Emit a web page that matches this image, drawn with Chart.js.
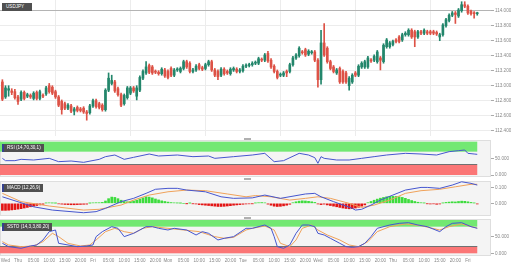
<!DOCTYPE html>
<html><head><meta charset="utf-8">
<script src="https://cdn.jsdelivr.net/npm/chart.js@4.4.1/dist/chart.umd.min.js"></script>
<style>
html,body{margin:0;padding:0;background:#fff;}
body{width:511px;height:267px;position:relative;overflow:hidden;font-family:"Liberation Sans",Arial,sans-serif;}
.box{position:absolute;left:0;width:511px;}
.tag{position:absolute;left:2px;background:#505050;color:#fff;font-size:4.6px;line-height:8px;height:8px;padding:0 3px 0 3px;white-space:nowrap;border-left:2px solid #35418f;}
.hdl{position:absolute;left:244px;width:7px;height:2px;background:#b0b0b0;}
</style></head><body>
<div class="box" style="top:0;height:137px"><canvas id="cMain"></canvas></div>
<div class="box" style="top:140px;height:37px"><canvas id="cRsi"></canvas></div>
<div class="box" style="top:181px;height:35px"><canvas id="cMacd"></canvas></div>
<div class="box" style="top:219px;height:48px"><canvas id="cSsto"></canvas></div>
<div class="tag" style="top:3px;border-left:none;padding-left:4px;width:23px">USDJPY</div>
<div class="tag" style="top:144px">RSI (14,70,30,1)</div>
<div class="tag" style="top:184px">MACD (12,26,9)</div>
<div class="tag" style="top:223px">SSTO (14,3,3,80,20)</div>
<div class="hdl" style="top:138px"></div>
<div class="hdl" style="top:178px"></div>
<div class="hdl" style="top:217px"></div>
<script>
// ---- time axis (hourly candles, index 0 = Wed 19:00) ----
const dayPos = [5,29,53,77,101,125,149];
const tickPos = [1,5,10,15,20,25,29,34,39,44,49,53,58,63,68,73,77,82,87,92,97,101,106,111,116,121,125,130,135,140,145,149];
const tickText = ['Wed','Thu','05:00','10:00','15:00','20:00','Fri','05:00','10:00','15:00','20:00','Mon','05:00','10:00','15:00','20:00','Tue','05:00','10:00','15:00','20:00','Wed','05:00','10:00','15:00','20:00','Thu','05:00','10:00','15:00','20:00','Fri'];

// ---- price (USDJPY, hourly OHLC) ----
const open = [113.05,112.85,112.94,112.93,112.92,112.85,112.82,112.91,112.86,112.87,
112.83,112.91,112.83,112.87,112.89,113.00,112.98,112.92,112.85,112.79,
112.76,112.70,112.73,112.66,112.71,112.69,112.70,112.65,112.64,112.73,
112.80,112.76,112.74,112.68,112.94,113.03,113.05,112.96,112.88,112.76,
112.84,112.90,112.97,112.86,112.94,113.10,113.17,113.27,113.25,113.19,
113.18,113.16,113.21,113.19,113.23,113.14,113.21,113.19,113.23,113.32,
113.30,113.19,113.21,113.28,113.24,113.23,113.28,113.32,113.21,113.19,
113.14,113.22,113.19,113.16,113.21,113.22,113.19,113.20,113.26,113.27,
113.28,113.30,113.30,113.35,113.34,113.43,113.34,113.26,113.19,113.14,
113.14,113.19,113.19,113.28,113.37,113.40,113.45,113.48,113.42,113.44,
113.45,113.34,113.08,113.57,113.50,113.32,113.25,113.17,113.23,113.19,
113.17,113.00,113.05,113.17,113.14,113.25,113.25,113.25,113.34,113.34,
113.32,113.37,113.32,113.52,113.52,113.55,113.61,113.65,113.61,113.68,
113.68,113.74,113.72,113.65,113.72,113.70,113.72,113.72,113.72,113.71,
113.65,113.68,113.80,113.87,113.94,113.97,113.93,114.00,114.08,114.06,
113.99,113.97,113.96];
const high = [113.08,113.00,113.00,112.96,112.95,112.87,112.93,112.93,112.90,112.89,
112.92,112.93,112.94,112.89,112.99,113.03,113.00,112.94,112.87,112.81,
112.78,112.76,112.75,112.71,112.73,112.71,112.72,112.67,112.75,112.82,
112.82,112.78,112.76,112.96,113.17,113.14,113.07,112.98,112.90,112.89,
112.99,112.99,112.99,113.00,113.13,113.21,113.32,113.29,113.27,113.21,
113.20,113.24,113.23,113.21,113.25,113.23,113.24,113.25,113.34,113.34,
113.32,113.23,113.28,113.30,113.26,113.30,113.34,113.34,113.23,113.21,
113.24,113.24,113.21,113.24,113.25,113.24,113.23,113.28,113.29,113.30,
113.32,113.33,113.38,113.37,113.43,113.46,113.36,113.28,113.21,113.17,
113.19,113.21,113.30,113.39,113.43,113.52,113.47,113.50,113.48,113.47,
113.47,113.36,113.74,113.83,113.52,113.34,113.27,113.23,113.25,113.21,
113.19,113.12,113.16,113.19,113.28,113.32,113.34,113.39,113.36,113.41,
113.47,113.39,113.56,113.63,113.59,113.61,113.63,113.67,113.70,113.72,
113.76,113.76,113.74,113.74,113.74,113.76,113.74,113.74,113.74,113.73,
113.70,113.83,113.90,113.96,113.99,113.99,114.03,114.12,114.12,114.08,
114.01,113.99,113.98];
const low = [112.80,112.83,112.86,112.88,112.82,112.75,112.80,112.81,112.84,112.83,
112.81,112.81,112.81,112.84,112.87,112.90,112.88,112.83,112.72,112.62,
112.68,112.68,112.64,112.61,112.65,112.65,112.63,112.54,112.62,112.71,
112.70,112.69,112.66,112.66,112.92,113.01,112.91,112.86,112.72,112.74,
112.82,112.88,112.91,112.81,112.92,113.08,113.15,113.16,113.15,113.16,
113.14,113.14,113.11,113.09,113.12,113.12,113.19,113.17,113.21,113.23,
113.17,113.17,113.19,113.21,113.20,113.21,113.26,113.19,113.12,113.08,
113.12,113.14,113.15,113.14,113.19,113.17,113.17,113.18,113.24,113.25,
113.26,113.28,113.28,113.32,113.32,113.31,113.23,113.17,113.09,113.12,
113.12,113.12,113.17,113.26,113.35,113.38,113.42,113.39,113.40,113.42,
113.32,112.98,113.02,113.39,113.30,113.21,113.17,113.15,113.03,113.03,
113.03,112.94,113.03,113.12,113.12,113.23,113.23,113.23,113.31,113.32,
113.30,113.21,113.30,113.50,113.50,113.53,113.57,113.57,113.59,113.66,
113.66,113.63,113.52,113.63,113.68,113.68,113.68,113.68,113.68,113.67,
113.60,113.66,113.78,113.85,113.92,113.83,113.91,113.98,114.04,113.95,
113.94,113.90,113.94];
const close = [112.82,112.97,112.96,112.91,112.84,112.79,112.91,112.83,112.88,112.85,
112.90,112.83,112.92,112.86,112.97,112.92,112.90,112.85,112.74,112.68,
112.70,112.74,112.66,112.69,112.67,112.67,112.65,112.63,112.73,112.80,
112.72,112.71,112.68,112.94,113.10,113.07,112.93,112.88,112.74,112.87,
112.97,112.97,112.93,112.97,113.11,113.19,113.25,113.18,113.17,113.18,
113.16,113.22,113.13,113.11,113.14,113.21,113.22,113.23,113.32,113.25,
113.19,113.21,113.26,113.23,113.22,113.28,113.32,113.21,113.14,113.12,
113.22,113.16,113.17,113.22,113.23,113.19,113.21,113.26,113.27,113.28,
113.30,113.31,113.36,113.34,113.41,113.33,113.25,113.19,113.11,113.15,
113.17,113.17,113.28,113.37,113.41,113.50,113.44,113.41,113.46,113.45,
113.34,113.08,113.57,113.41,113.32,113.23,113.19,113.21,113.05,113.05,
113.05,113.10,113.14,113.14,113.26,113.30,113.32,113.37,113.33,113.39,
113.45,113.34,113.54,113.61,113.57,113.59,113.59,113.59,113.68,113.70,
113.74,113.65,113.65,113.72,113.70,113.74,113.70,113.70,113.70,113.69,
113.68,113.81,113.88,113.94,113.97,113.95,114.01,114.08,114.06,113.97,
113.96,113.96,113.96];
const priceTicks = [112.4,112.6,112.8,113.0,113.2,113.4,113.6,113.8,114.0];

// ---- RSI (14) samples ----
const rsiIdx = [0,1,4,6,10,15,18,22,26,31,33,36,39,42,47,50,56,61,66,68,74,80,84,87,90,95,98,100,101,102,103,107,111,115,119,123,129,134,139,143,146,148,149,151,152];
const rsiVal = [50,43,43,47,45,50,40,42,38,47,55,60,47,53,63,57,60,55,57,50,55,60,65,40,43,65,60,52,35,55,50,45,45,50,55,60,65,63,60,70,73,75,65,63,62];
const rsiTicks = [0,50];

// ---- MACD (12,26,9) ----
const macdIdx = [0,10,16,26,30,33,38,42,46,49,53,56,59,65,70,74,80,84,89,97,100,102,106,112,113,115,118,121,125,129,134,136,140,144,147,150,152];
const macdVal = [0.042,-0.022,-0.043,-0.060,-0.053,-0.032,0.011,0.032,0.064,0.090,0.096,0.096,0.085,0.074,0.042,0.032,0.035,0.053,0.032,0.060,0.064,0.042,0.011,-0.032,-0.043,-0.038,-0.011,0.021,0.053,0.085,0.102,0.102,0.096,0.117,0.138,0.128,0.117];
const sigIdx = [0,6,15,26,31,38,42,47,53,59,65,72,78,81,86,92,97,101,105,111,115,119,124,129,134,140,145,150,152];
const sigVal = [0.064,0.011,-0.017,-0.043,-0.038,-0.011,0.021,0.053,0.074,0.085,0.081,0.060,0.042,0.050,0.042,0.021,0.032,0.042,0.032,0.000,-0.026,-0.011,0.021,0.064,0.081,0.090,0.106,0.122,0.122];
const histVal = [-0.045,-0.045,-0.044,-0.042,-0.040,-0.037,-0.034,-0.030,-0.026,-0.022,
-0.018,-0.014,-0.010,-0.006,0.002,0.003,0.002,0.001,-0.003,-0.005,
-0.007,-0.008,-0.009,-0.009,-0.008,-0.007,-0.006,-0.005,0.001,0.003,
0.004,0.004,0.006,0.015,0.030,0.040,0.038,0.030,0.020,0.012,
0.010,0.012,0.015,0.020,0.028,0.035,0.042,0.040,0.035,0.028,
0.022,0.016,0.012,0.008,0.005,0.003,0.002,0.001,0.000,-0.001,
0.001,-0.002,-0.004,-0.008,-0.010,-0.012,-0.014,-0.016,-0.018,-0.020,
-0.020,-0.019,-0.017,-0.015,-0.012,-0.010,-0.008,-0.006,-0.004,-0.003,
-0.002,0.002,0.004,0.005,0.003,-0.005,-0.012,-0.018,-0.020,-0.019,
-0.016,-0.012,-0.006,0.004,0.010,0.014,0.016,0.015,0.013,0.010,
0.006,-0.004,-0.008,-0.005,-0.010,-0.014,-0.018,-0.022,-0.026,-0.030,
-0.033,-0.035,-0.034,-0.030,-0.025,-0.018,-0.010,0.004,0.012,0.020,
0.027,0.033,0.038,0.042,0.045,0.045,0.044,0.042,0.038,0.032,
0.025,0.018,0.012,0.007,0.004,0.002,-0.002,-0.004,-0.003,-0.006,
-0.004,0.002,0.006,0.008,0.010,0.009,0.012,0.014,0.013,0.010,
0.006,0.002,-0.004];
const macdTicks = [0,0.1];

// ---- SSTO (14,3,3) ----
const kIdx = [0,2,6,9,11,13,15,17,18,21,24,27,29,30,32,35,37,39,42,44,46,48,50,53,55,59,62,64,66,69,71,74,78,80,84,86,87,88,90,92,94,96,98,100,101,103,105,108,110,112,114,116,118,120,124,127,130,133,136,140,142,144,147,150,152];
const kVal = [30,20,15,22,25,40,65,70,30,25,20,22,25,50,65,80,75,50,60,70,80,80,75,70,75,70,55,65,60,40,45,50,75,75,85,75,50,20,15,25,60,85,85,80,60,55,45,30,20,18,20,30,50,75,85,90,92,85,80,65,80,90,92,80,75];
const dIdx = [0,2,6,10,13,16,18,21,25,28,30,33,36,39,42,45,48,53,58,63,68,71,74,78,80,84,87,89,92,94,96,99,101,104,108,111,114,117,120,124,129,134,140,143,147,151,152];
const dVal = [35,25,20,22,35,60,50,30,22,25,40,65,75,65,60,75,80,75,70,65,50,45,48,70,75,82,70,30,20,40,75,85,70,55,40,25,20,35,65,80,88,83,70,80,88,78,76];
const pctTicks = [0,50];

// ---- styling ----
const X_MIN = -0.76, X_MAX = 156.4, LAST = close.length - 1;
const GREEN = '#23866b', RED = '#dd5246', BLUE = '#4656cf', ORANGE = '#f0a25a';
const AX_FONT = {size:4.6, family:'"Liberation Sans", Arial, sans-serif'};

const panelBg = {id:'panelBg', beforeDraw(chart, args, o){
  if(!o || !o.color) return;
  const {ctx, chartArea:a} = chart;
  ctx.save(); ctx.fillStyle = o.color; ctx.fillRect(a.left, a.top, a.right-a.left, a.bottom-a.top);
  if(o.border){ ctx.strokeStyle=o.border; ctx.lineWidth=1; ctx.strokeRect(a.left+0.5, a.top+0.5, a.right-a.left-1, a.bottom-a.top-1); }
  ctx.restore();
}};
const bands = {id:'bands', beforeDatasetsDraw(chart, args, o){
  if(!o || !o.list) return;
  const {ctx, chartArea:a, scales:{x, y}} = chart;
  const xr = x.getPixelForValue(LAST);
  ctx.save();
  o.list.forEach(b => {
    const y1 = y.getPixelForValue(b.to), y2 = y.getPixelForValue(b.from);
    ctx.fillStyle = b.color; ctx.fillRect(a.left, y1, xr - a.left, y2 - y1);
    if(b.edge){ const ye = y.getPixelForValue(b.edgeAt); ctx.fillStyle = b.edge; ctx.fillRect(a.left, Math.round(ye)-1, xr - a.left, 1); }
  });
  ctx.restore();
}};

function xScale(labels, grid){
  return {type:'linear', min:X_MIN, max:X_MAX, offset:false,
    afterBuildTicks: s => { s.ticks = (labels ? tickPos : dayPos).map(v => ({value:v})); },
    ticks:{display:labels, autoSkip:false, maxRotation:0, padding:2, font:AX_FONT, color:'#888',
      callback:(v,i) => labels ? tickText[i] : ''},
    grid:{display:grid, drawTicks:false, color: c => dayPos.includes(c.tick && c.tick.value) ? '#ececec' : 'rgba(0,0,0,0)'},
    border:{display:false},
    afterFit: s => { s.paddingLeft = 0; s.paddingRight = 0; s.height = labels ? 11 : 0; }
  };
}
function yScale(min, max, ticks, gridColor){
  return {position:'right', min, max,
    afterBuildTicks: s => { s.ticks = ticks.map(v => ({value:v})); },
    ticks:{font:AX_FONT, color:'#888', padding:1, callback: v => Number(v).toFixed(3)},
    grid:{color:gridColor, tickLength:3, drawTicks:true, tickColor:'#aaa', lineWidth:1},
    border:{display:false},
    afterFit: s => { s.width = 20; s.paddingTop = 0; s.paddingBottom = 0; }
  };
}
const base = {responsive:true, maintainAspectRatio:false, animation:false, devicePixelRatio:1,
  layout:{padding:0}, events:[]};
const idx = close.map((_, i) => i);
const candleColors = idx.map(i => close[i] >= open[i] ? GREEN : RED);
const pts = (xs, ys) => xs.map((x, i) => ({x, y:ys[i]}));
const lineDs = (data, color) => ({type:'line', data, borderColor:color, borderWidth:1, pointRadius:0, tension:0, fill:false});

new Chart(document.getElementById('cMain'), {
  type:'bar',
  data:{datasets:[
    {data: idx.map(i => ({x:i, y:[low[i], high[i]]})), backgroundColor:candleColors, barThickness:1, grouped:false, order:2},
    {data: idx.map(i => ({x:i, y:[open[i], close[i]]})), backgroundColor:candleColors, barThickness:2, grouped:false, minBarLength:1, order:1}
  ]},
  options:Object.assign({}, base, {
    layout:{padding:{bottom:1}},
    plugins:{legend:{display:false}, tooltip:{enabled:false}},
    scales:{x:xScale(false, true),
      y:yScale(112.329, 114.143, priceTicks, c => (c.tick && c.tick.value === 114) ? '#b4b4b4' : '#ececec')}
  })
});

new Chart(document.getElementById('cRsi'), {
  type:'line',
  data:{datasets:[lineDs(pts(rsiIdx, rsiVal), BLUE)]},
  plugins:[panelBg, bands],
  options:Object.assign({}, base, {
    plugins:{legend:{display:false}, tooltip:{enabled:false},
      panelBg:{color:'#f4f4f4', border:'#dedede'},
      bands:{list:[{from:70, to:100, color:'#72e872'}, {from:0, to:30, color:'#fb7676', edge:'#707070', edgeAt:30}]}},
    scales:{x:xScale(false, false), y:yScale(-6, 105, rsiTicks, 'rgba(0,0,0,0)')}
  })
});

new Chart(document.getElementById('cMacd'), {
  type:'bar',
  data:{datasets:[
    lineDs(pts(macdIdx, macdVal), BLUE),
    lineDs(pts(sigIdx, sigVal), ORANGE),
    {type:'bar', data: idx.map(i => ({x:i, y:histVal[i]})), backgroundColor: histVal.map(v => v >= 0 ? '#3ddc3d' : '#e31414'), barThickness:2, grouped:false}
  ]},
  plugins:[panelBg],
  options:Object.assign({}, base, {
    plugins:{legend:{display:false}, tooltip:{enabled:false}, panelBg:{color:'#f4f4f4', border:'#dedede'}},
    scales:{x:xScale(false, false), y:yScale(-0.081, 0.143, macdTicks, 'rgba(0,0,0,0)')}
  })
});

new Chart(document.getElementById('cSsto'), {
  type:'line',
  data:{datasets:[lineDs(pts(kIdx, kVal), BLUE), lineDs(pts(dIdx, dVal), ORANGE)]},
  plugins:[panelBg, bands],
  options:Object.assign({}, base, {
    plugins:{legend:{display:false}, tooltip:{enabled:false},
      panelBg:{color:'#f4f4f4', border:'#dedede'},
      bands:{list:[{from:80, to:100, color:'#72e872'}, {from:0, to:20, color:'#fb7676', edge:'#707070', edgeAt:20}]}},
    scales:{x:xScale(true, false), y:yScale(-8.1, 103, pctTicks, 'rgba(0,0,0,0)')}
  })
});
</script>
</body></html>
